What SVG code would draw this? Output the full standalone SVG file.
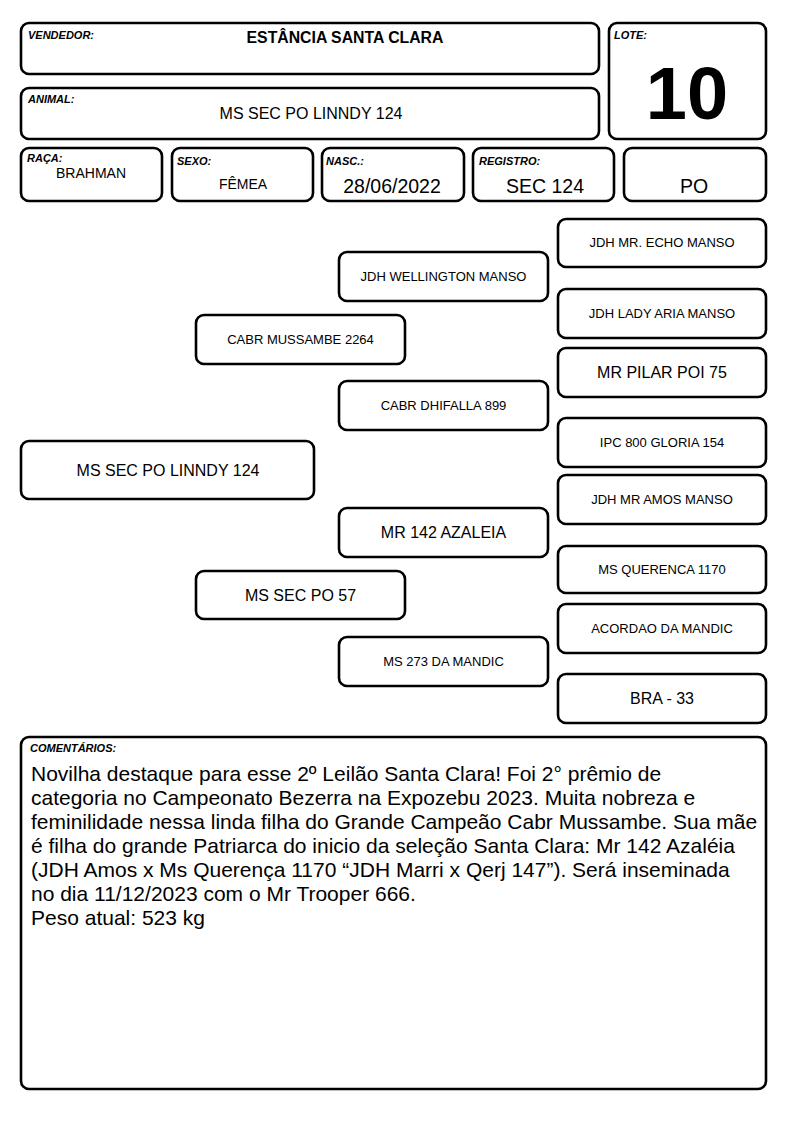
<svg xmlns="http://www.w3.org/2000/svg" width="794" height="1123" viewBox="0 0 794 1123">
<style>
.box{fill:#fff;stroke:#000;stroke-width:2.6}
.lbl{font-family:"Liberation Sans",Arial,sans-serif;font-size:11px;font-weight:bold;font-style:italic;fill:#000}
.val{font-family:"Liberation Sans",Arial,sans-serif;font-size:14px;fill:#000;text-anchor:middle}
.big{font-family:"Liberation Sans",Arial,sans-serif;font-size:19.5px;fill:#000;text-anchor:middle}
.sm{font-family:"Liberation Sans",Arial,sans-serif;font-size:13px;fill:#000;text-anchor:middle}
.md{font-family:"Liberation Sans",Arial,sans-serif;font-size:16px;fill:#000;text-anchor:middle}
.cm{font-family:"Liberation Sans",Arial,sans-serif;font-size:21px;fill:#000}
</style>
<rect width="794" height="1123" fill="#fff"/>
<g id="vendedor"><rect class="box" x="21" y="23" width="578" height="51" rx="8"/><text class="lbl" x="28" y="39">VENDEDOR:</text><text x="345" y="43" font-family="'Liberation Sans',Arial,sans-serif" font-size="15.8" font-weight="bold" text-anchor="middle">ESTÂNCIA SANTA CLARA</text></g>
<g id="animal"><rect class="box" x="21" y="88" width="578" height="51" rx="8"/><text class="lbl" x="28" y="103">ANIMAL:</text><text class="md" x="311" y="119">MS SEC PO LINNDY 124</text></g>
<g id="lote"><rect class="box" x="609" y="23" width="157" height="116" rx="8"/><text class="lbl" x="614" y="39">LOTE:</text><text x="687" y="119" font-family="'Liberation Sans',Arial,sans-serif" font-size="74" font-weight="bold" text-anchor="middle">10</text></g>
<g id="raca"><rect class="box" x="21" y="148" width="141" height="53" rx="8"/><text class="lbl" x="27" y="162">RAÇA:</text><text class="val" x="91" y="178">BRAHMAN</text></g>
<g id="sexo"><rect class="box" x="172" y="148" width="141" height="53" rx="8"/><text class="lbl" x="177" y="165">SEXO:</text><text class="val" x="243" y="189">FÊMEA</text></g>
<g id="nasc"><rect class="box" x="322" y="148" width="142" height="53" rx="8"/><text class="lbl" x="326" y="165">NASC.:</text><text class="big" x="392" y="193">28/06/2022</text></g>
<g id="registro"><rect class="box" x="473" y="148" width="141" height="53" rx="8"/><text class="lbl" x="479" y="165">REGISTRO:</text><text class="big" x="545" y="193">SEC 124</text></g>
<g id="po"><rect class="box" x="624" y="148" width="142" height="53" rx="8"/><text class="big" x="694" y="193">PO</text></g>
<g id="connectors"></g>
<g id="n-animal"><rect class="box" x="21" y="441" width="293" height="58" rx="8"/><text class="md" x="168" y="476">MS SEC PO LINNDY 124</text></g>
<g id="n-pai"><rect class="box" x="196" y="315" width="209" height="49" rx="8"/><text class="sm" x="300.5" y="344">CABR MUSSAMBE 2264</text></g>
<g id="n-mae"><rect class="box" x="196" y="571" width="209" height="48" rx="8"/><text class="md" x="300.5" y="601">MS SEC PO 57</text></g>
<g id="n-avo1"><rect class="box" x="339" y="252" width="209" height="49" rx="8"/><text class="sm" x="443.5" y="281">JDH WELLINGTON MANSO</text></g>
<g id="n-avo2"><rect class="box" x="339" y="381" width="209" height="49" rx="8"/><text class="sm" x="443.5" y="410">CABR DHIFALLA 899</text></g>
<g id="n-avo3"><rect class="box" x="339" y="508" width="209" height="49" rx="8"/><text class="md" x="443.5" y="538">MR 142 AZALEIA</text></g>
<g id="n-avo4"><rect class="box" x="339" y="637" width="209" height="49" rx="8"/><text class="sm" x="443.5" y="666">MS 273 DA MANDIC</text></g>
<g id="n-b1"><rect class="box" x="558" y="219" width="208" height="48" rx="8"/><text class="sm" x="662" y="247">JDH MR. ECHO MANSO</text></g>
<g id="n-b2"><rect class="box" x="558" y="289" width="208" height="49" rx="8"/><text class="sm" x="662" y="318">JDH LADY ARIA MANSO</text></g>
<g id="n-b3"><rect class="box" x="558" y="348" width="208" height="49" rx="8"/><text class="md" x="662" y="378">MR PILAR POI 75</text></g>
<g id="n-b4"><rect class="box" x="558" y="418" width="208" height="49" rx="8"/><text class="sm" x="662" y="447">IPC 800 GLORIA 154</text></g>
<g id="n-b5"><rect class="box" x="558" y="475" width="208" height="49" rx="8"/><text class="sm" x="662" y="504">JDH MR AMOS MANSO</text></g>
<g id="n-b6"><rect class="box" x="558" y="546" width="208" height="47" rx="8"/><text class="sm" x="662" y="574">MS QUERENCA 1170</text></g>
<g id="n-b7"><rect class="box" x="558" y="604" width="208" height="49" rx="8"/><text class="sm" x="662" y="633">ACORDAO DA MANDIC</text></g>
<g id="n-b8"><rect class="box" x="558" y="674" width="208" height="49" rx="8"/><text class="md" x="662" y="704">BRA - 33</text></g>
<g id="comentarios"><rect class="box" x="21" y="737" width="745" height="352" rx="8"/><text class="lbl" x="30" y="752">COMENTÁRIOS:</text>
<text class="cm" x="31" y="781">Novilha destaque para esse 2º Leilão Santa Clara! Foi 2° prêmio de</text>
<text class="cm" x="31" y="805">categoria no Campeonato Bezerra na Expozebu 2023. Muita nobreza e</text>
<text class="cm" x="31" y="829">feminilidade nessa linda filha do Grande Campeão Cabr Mussambe. Sua mãe</text>
<text class="cm" x="31" y="853">é filha do grande Patriarca do inicio da seleção Santa Clara: Mr 142 Azaléia</text>
<text class="cm" x="31" y="877">(JDH Amos x Ms Querença 1170 “JDH Marri x Qerj 147”). Será inseminada</text>
<text class="cm" x="31" y="901">no dia 11/12/2023 com o Mr Trooper 666.</text>
<text class="cm" x="31" y="925">Peso atual: 523 kg</text>
</g>
</svg>
